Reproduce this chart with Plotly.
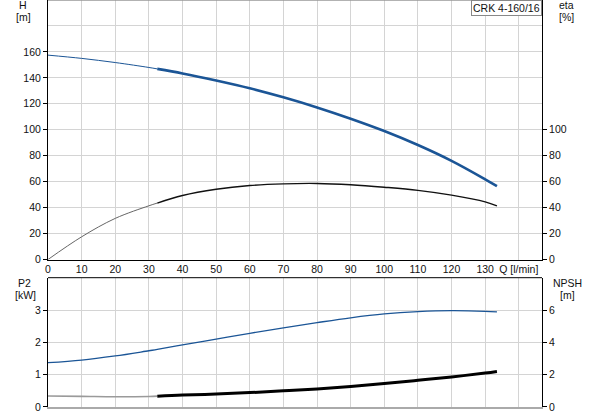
import plotly.graph_objects as go

# Flow values (l/min)
Q = [0, 10, 20, 30, 32.5, 40, 50, 60, 70, 80, 90, 100, 110, 120, 130, 133.5]
# Head H [m]
H = [157.5, 155.0, 151.8, 148.0, 146.9, 143.4, 138.0, 132.0, 125.0, 117.2, 108.5, 99.0, 88.2, 76.0, 61.8, 56.5]
# Efficiency eta [%]
ETA = [0, 17.5, 31.7, 41.4, 43.5, 49.3, 54.1, 57.0, 58.3, 58.6, 57.6, 55.7, 53.3, 49.6, 44.4, 41.3]
# Power P2 [kW]
P2 = [1.37, 1.45, 1.58, 1.74, 1.78, 1.92, 2.10, 2.28, 2.45, 2.61, 2.76, 2.88, 2.95, 2.98, 2.96, 2.94]
# NPSH [m]
NPSH = [0.68, 0.66, 0.63, 0.65, 0.67, 0.74, 0.80, 0.89, 1.00, 1.12, 1.27, 1.45, 1.65, 1.86, 2.10, 2.20]

X_TICKS = [0, 10, 20, 30, 40, 50, 60, 70, 80, 90, 100, 110, 120, 130, 140]
X_LABELS = ["0", "10", "20", "30", "40", "50", "60", "70", "80", "90", "100", "110", "120", "130", "Q [l/min]"]
H_TICKS = [0, 20, 40, 60, 80, 100, 120, 140, 160]
ETA_TICKS = [0, 20, 40, 60, 80, 100]
P2_TICKS = [0, 1, 2, 3]
NPSH_TICKS = [0, 2, 4, 6]
TITLE = "CRK 4-160/16"

SPLIT = 4  # index where the thin (out of range) part ends

BLUE = "#1b5596"
GRID = "#d4d4d4"
FONT = "Liberation Sans, Arial, sans-serif"
FS = 10.5

fig = go.Figure()

def seg(x, y, axes, color, width):
    xa, ya = axes
    fig.add_trace(go.Scatter(x=x, y=y, mode="lines", xaxis=xa, yaxis=ya,
                             line=dict(color=color, width=width, shape="spline"),
                             hoverinfo="skip", showlegend=False))

# Top: H and eta
seg(Q[:SPLIT + 1], H[:SPLIT + 1], ("x", "y"), BLUE, 1.0)
seg(Q[SPLIT:], H[SPLIT:], ("x", "y"), BLUE, 2.6)
seg(Q[:SPLIT + 1], ETA[:SPLIT + 1], ("x", "y2"), "#666666", 1.0)
seg(Q[SPLIT:], ETA[SPLIT:], ("x", "y2"), "#111111", 1.4)
# Bottom: P2 and NPSH
seg(Q, P2, ("x2", "y3"), BLUE, 1.3)
seg(Q[:SPLIT + 1], NPSH[:SPLIT + 1], ("x2", "y4"), "#9a9a9a", 1.6)
seg(Q[SPLIT:], NPSH[SPLIT:], ("x2", "y4"), "#000000", 3.0)

TOP_DOM = [0.3624, 1.0]
BOT_DOM = [0.0, 0.3177]
XR = [0, 146.9]
tickfont = dict(family=FONT, size=FS, color="#111111")

fig.update_layout(
    width=593, height=415,
    margin=dict(l=48, r=51, t=0, b=8),
    paper_bgcolor="white", plot_bgcolor="white",
    font=dict(family=FONT, size=FS, color="#111111"),
    showlegend=False,
    xaxis=dict(domain=[0, 1], anchor="y", range=XR, tickvals=X_TICKS, ticktext=X_LABELS,
               showgrid=True, gridcolor=GRID, gridwidth=1, zeroline=False,
               showline=True, linecolor="#000000", linewidth=1, ticks="",
               tickfont=tickfont, fixedrange=True),
    yaxis=dict(domain=TOP_DOM, anchor="x", range=[0, 200], tickvals=H_TICKS,
               showgrid=True, gridcolor=GRID, gridwidth=1, zeroline=False,
               minor=dict(dtick=20, tick0=0, showgrid=True, gridcolor=GRID, ticks=""),
               showline=True, linecolor="#000000", linewidth=1,
               ticks="outside", ticklen=4, tickcolor="#000000", tickfont=tickfont),
    yaxis2=dict(overlaying="y", anchor="x", side="right", range=[0, 200], tickvals=ETA_TICKS,
                showgrid=False, zeroline=False, showline=True, linecolor="#000000", linewidth=1,
                ticks="outside", ticklen=4, tickcolor="#000000", tickfont=tickfont),
    xaxis2=dict(domain=[0, 1], anchor="y3", range=XR, tickvals=X_TICKS, showticklabels=False,
                showgrid=True, gridcolor=GRID, gridwidth=1, zeroline=False,
                showline=True, linecolor="#aaaaaa", linewidth=2, ticks=""),
    yaxis3=dict(domain=BOT_DOM, anchor="x2", range=[0, 4], tickvals=P2_TICKS,
                showgrid=True, gridcolor=GRID, gridwidth=1, zeroline=False,
                showline=True, linecolor="#000000", linewidth=1,
                ticks="outside", ticklen=4, tickcolor="#000000", tickfont=tickfont),
    yaxis4=dict(overlaying="y3", anchor="x2", side="right", range=[0, 8], tickvals=NPSH_TICKS,
                showgrid=False, zeroline=False, showline=True, linecolor="#000000", linewidth=1,
                ticks="outside", ticklen=4, tickcolor="#000000", tickfont=tickfont),
)

# borders on top of each panel
fig.add_shape(type="line", xref="paper", yref="paper", x0=0, x1=1, y0=TOP_DOM[1], y1=TOP_DOM[1],
              line=dict(color="#999999", width=1.5))
fig.add_shape(type="line", xref="paper", yref="paper", x0=0, x1=1, y0=BOT_DOM[1], y1=BOT_DOM[1],
              line=dict(color="#000000", width=1))

PW, PH = 494, 407
def px(x):
    return (x - 48) / PW
def py(y):
    return (PH - y) / PH

def label(text, x, y):
    fig.add_annotation(text=text, xref="paper", yref="paper", x=px(x), y=py(y),
                       xanchor="center", yanchor="middle", showarrow=False,
                       font=dict(family=FONT, size=FS, color="#111111"))

label("H", 23, 5.5)
label("[m]", 23, 17.3)
label("eta", 566, 5.5)
label("[%]", 566, 17)
label("P2", 24, 283.3)
label("[kW]", 25.5, 294.5)
label("NPSH", 567.5, 283)
label("[m]", 567, 294.5)

fig.add_annotation(text=TITLE, xref="paper", yref="paper", x=1, y=1, xanchor="right", yanchor="top",
                   showarrow=False, bgcolor="white", bordercolor="#888888", borderwidth=1, borderpad=1,
                   font=dict(family=FONT, size=FS, color="#111111"))

fig.write_html("out.html",
               config={"displayModeBar": False, "staticPlot": True},
               post_script="document.body.style.margin='0';document.body.style.padding='0';"
                           "document.body.style.overflow='hidden';")
